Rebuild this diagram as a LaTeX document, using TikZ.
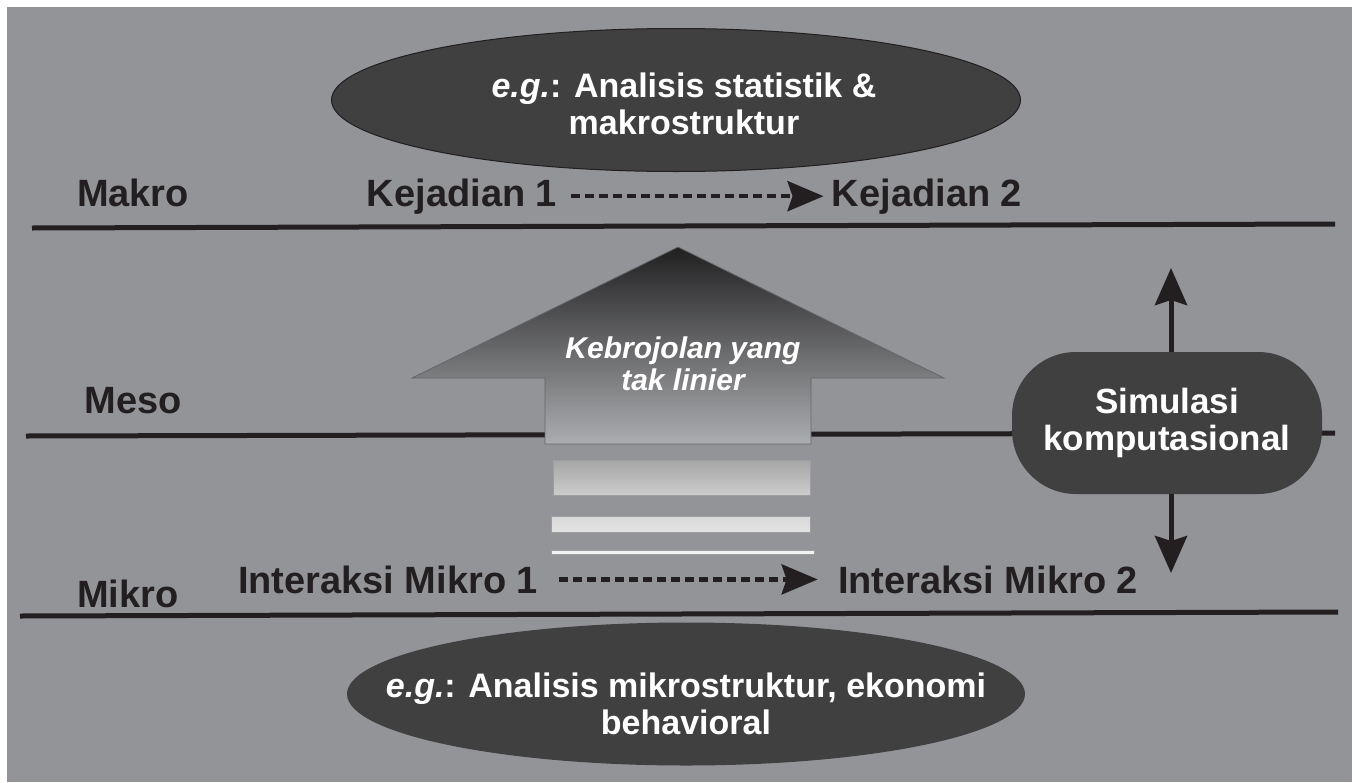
\documentclass[tikz,border=0pt]{standalone}
\usepackage{fontspec}
\setmainfont{Liberation Sans}
\usetikzlibrary{shapes.geometric,arrows.meta,positioning}

\definecolor{bgGrey}{HTML}{939498}
\definecolor{inkBlack}{HTML}{231F20}
\definecolor{ovalGrey}{HTML}{404041}
\definecolor{arrowTop}{HTML}{202021}
\definecolor{arrowBottom}{HTML}{ACADB0}

\begin{document}
\begin{tikzpicture}[
    x=0.5pt, y=-0.5pt,
    level/.style={font=\fontsize{19}{22}\selectfont\bfseries, text=inkBlack, anchor=base, inner sep=4pt},
    oval/.style={ellipse, fill=ovalGrey, draw=inkBlack, line width=0.5pt, inner sep=0pt},
    ovaltext/.style={font=\fontsize{17}{18.7}\selectfont\bfseries, text=white, align=center, inner sep=0pt},
    simbox/.style={rectangle, rounded corners=32pt, fill=ovalGrey, minimum width=155pt, minimum height=71pt, text=white, font=\fontsize{17.5}{18.5}\selectfont\bfseries, align=center},
    levelline/.style={draw=inkBlack, line width=2.5pt},
    flow/.style={draw=inkBlack, line width=2.25pt, dash pattern=on 4.5pt off 2.5pt, -{Stealth[length=18pt, width=15pt, inset=2.5pt]}},
    vecarrow/.style={draw=inkBlack, line width=2.5pt, -{Stealth[length=18.5pt, width=16pt, inset=2.5pt]}},
    bar/.style={draw=gray!75, line width=0.5pt}
]
    % Background
    \fill[white] (0,0) rectangle (1355,782);
    \fill[bgGrey] (7,7) rectangle (1352,782);
    \useasboundingbox (0,0) rectangle (1355,782);

    % Level lines
    \coordinate (makroL) at (32,228);
    \coordinate (makroR) at (1335,224);
    \coordinate (mesoL) at (26,436);
    \coordinate (mesoR) at (1335,433);
    \coordinate (mikroL) at (20,616);
    \coordinate (mikroR) at (1338,612);
    \draw[levelline] (makroL) -- (makroR);
    \draw[levelline] (mesoL) -- (mesoR);
    \draw[levelline] (mikroL) -- (mikroR);

    % Ovals
    \node[oval, minimum width=344.5pt, minimum height=71.5pt] (macro) at (676,100) {};
    \node[ovaltext] (macrotext) at (684,104) {{\itshape e.g.}: Analisis statistik \&\\makrostruktur};
    \node[oval, draw=none, minimum width=339pt, minimum height=71.5pt] (micro) at (686,694) {};
    \node[ovaltext] (microtext) at (686,704) {{\itshape e.g.}: Analisis mikrostruktur, ekonomi\\behavioral};

    % Level labels
    \node[level] (makro) at (133,206) {Makro};
    \node[level] (meso) at (133,413) {Meso};
    \node[level] (mikro) at (128,607) {Mikro};

    % Events
    \node[level] (kej1) at (462,206) {Kejadian 1};
    \node[level] (kej2) at (927,206) {Kejadian 2};
    \node[level] (int1) at (388,593) {Interaksi Mikro 1};
    \node[level] (int2) at (988,593) {Interaksi Mikro 2};
    \draw[flow, shorten <=3pt] (kej1.east) -- (kej2.west);
    \draw[flow, shorten <=6.5pt, shorten >=6pt] (int1.east) -- (int2.west);

    % Emergence arrow
    \path[top color=arrowTop, bottom color=arrowBottom, draw=gray!80!black, line width=0.4pt]
        (678,247) -- (944,378) -- (811,378) -- (811,444) -- (545,444) -- (545,378) -- (412,378) -- cycle;
    \path[bar, top color=gray!70, bottom color=gray!40] (553,460) rectangle (810,495);
    \path[bar, top color=gray!30, bottom color=gray!22] (551,516) rectangle (810,532);
    \path[bar, fill=gray!10] (551,550) rectangle (814,554);
    \node[font=\fontsize{15}{16}\selectfont\bfseries\itshape, text=white, align=center] (emerge) at (683,364) {Kebrojolan yang\\tak linier};

    % Simulation
    \node[simbox] (sim) at (1167,423) {Simulasi\\komputasional};
    \coordinate (simtop) at (1171,268);
    \coordinate (simbot) at (1171,573);
    \draw[vecarrow] (sim.north -| simtop) -- (simtop);
    \draw[vecarrow] (sim.south -| simbot) -- (simbot);
\end{tikzpicture}
\end{document}
